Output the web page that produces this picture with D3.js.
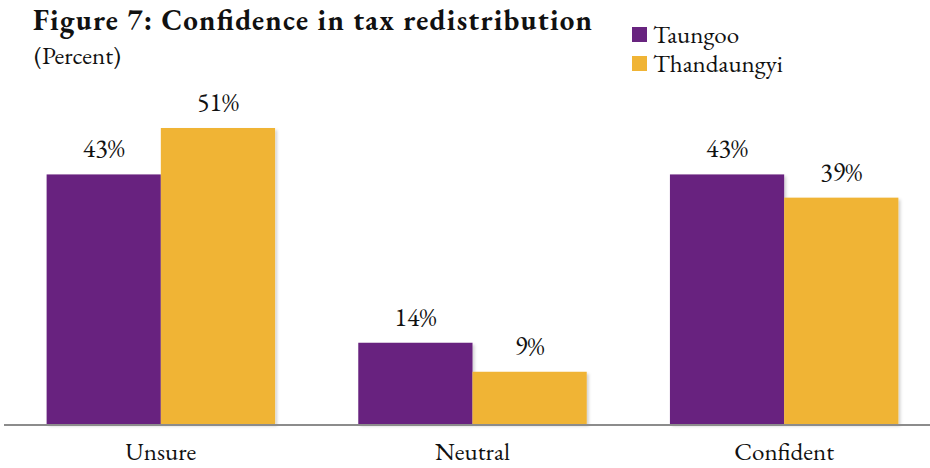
<!DOCTYPE html>
<html>
<head>
<meta charset="utf-8">
<script src="https://cdn.jsdelivr.net/npm/d3@7"></script>
<style>
  html, body { margin: 0; padding: 0; background: #fff; }
</style>
</head>
<body>
<svg id="chart"></svg>
<script>
// chart data
const categories = ['Unsure', 'Neutral', 'Confident'];
const seriesNames = ['Taungoo', 'Thandaungyi'];
const taungoo = [43, 14, 43];
const thandaungyi = [51, 9, 39];
const seriesColors = ['#68247f', '#f0b435'];

const width = 930, height = 468;
const baseY = 424;
const FONT = '"EB Garamond", "Liberation Serif", serif';

const svg = d3.select('#chart')
	.attr('width', width)
	.attr('height', height);

function styleText(sel, size){
	return sel.attr('font-family', FONT)
		.attr('font-size', size)
		.attr('fill', '#111')
		.style('font-variant-numeric', 'lining-nums');
}

// soft shadow under the bars
const defs = svg.append('defs');
const shadow = defs.append('filter')
	.attr('id', 'barShadow')
	.attr('x', '-10%').attr('y', '-10%')
	.attr('width', '130%').attr('height', '130%');
shadow.append('feDropShadow')
	.attr('dx', 2).attr('dy', 2)
	.attr('stdDeviation', 1.5)
	.attr('flood-color', '#000')
	.attr('flood-opacity', 0.18);

const x = d3.scaleBand()
	.domain(categories)
	.range([5, 940])
	.paddingInner(0.267)
	.paddingOuter(0.1335);

const xInner = d3.scaleBand()
	.domain(seriesNames)
	.range([0, x.bandwidth()]);

const y = d3.scaleLinear()
	.domain([0, 51])
	.range([baseY, 128]);

const rows = categories.map((c, i) => ({
	category: c,
	values: [taungoo[i], thandaungyi[i]]
}));

const groups = svg.append('g').attr('class', 'bars')
	.selectAll('g')
	.data(rows)
	.join('g')
	.attr('transform', d => `translate(${x(d.category)},0)`);

groups.selectAll('rect')
	.data(d => d.values.map((v, j) => ({ name: seriesNames[j], value: v, j })))
	.join('rect')
	.attr('x', d => xInner(d.name))
	.attr('y', d => y(d.value))
	.attr('width', xInner.bandwidth())
	.attr('height', d => baseY - y(d.value))
	.attr('fill', d => seriesColors[d.j])
	.attr('filter', 'url(#barShadow)');

groups.selectAll('text.value')
	.data(d => d.values.map((v, j) => ({ name: seriesNames[j], value: v })))
	.join('text')
	.attr('class', 'value')
	.attr('x', d => xInner(d.name) + xInner.bandwidth() / 2)
	.attr('y', d => y(d.value) - 17)
	.attr('text-anchor', 'middle')
	.call(styleText, 26)
	.text(d => `${d.value}%`);

// axis line + category labels
svg.append('line')
	.attr('x1', 4).attr('x2', width)
	.attr('y1', baseY + 1).attr('y2', baseY + 1)
	.attr('stroke', '#8c8c8c')
	.attr('stroke-width', 2);

svg.append('g').selectAll('text')
	.data(categories)
	.join('text')
	.attr('x', d => x(d) + x.bandwidth() / 2)
	.attr('y', 460)
	.attr('text-anchor', 'middle')
	.call(styleText, 25)
	.text(d => d);

// title
svg.append('text')
	.attr('x', 33).attr('y', 30)
	.call(styleText, 29)
	.attr('font-weight', 'bold')
	.attr('textLength', 559)
	.attr('lengthAdjust', 'spacing')
	.text('Figure 7: Confidence in tax redistribution');

svg.append('text')
	.attr('x', 34).attr('y', 64)
	.call(styleText, 25)
	.text('(Percent)');

// legend
const legend = svg.append('g')
	.attr('transform', 'translate(632,27)')
	.selectAll('g')
	.data(seriesNames)
	.join('g')
	.attr('transform', (d, i) => `translate(0,${i * 29})`);

legend.append('rect')
	.attr('width', 15).attr('height', 15)
	.attr('fill', (d, i) => seriesColors[i]);

legend.append('text')
	.attr('x', 21).attr('y', 16)
	.call(styleText, 25)
	.text(d => d);
</script>
</body>
</html>
